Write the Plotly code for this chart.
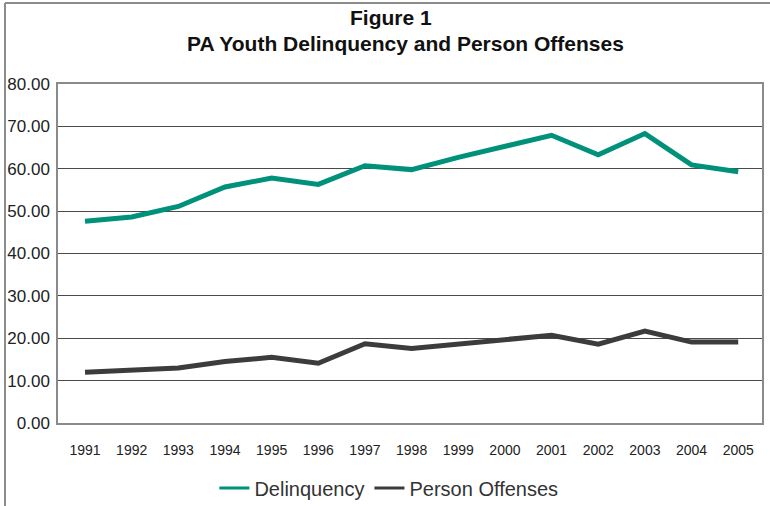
import plotly.graph_objects as go

# Years on the category axis
years = ["1991", "1992", "1993", "1994", "1995", "1996", "1997", "1998",
         "1999", "2000", "2001", "2002", "2003", "2004", "2005"]

# Rates per year for each series
delinquency = [47.6, 48.6, 51.1, 55.7, 57.8, 56.3, 60.7, 59.8,
               62.7, 65.2, 67.9, 63.3, 68.3, 60.9, 59.3]
person_offenses = [12.0, 12.5, 13.0, 14.5, 15.5, 14.1, 18.7, 17.6,
                   18.7, 19.7, 20.7, 18.6, 21.7, 19.1, 19.1]

y_ticks = [0, 10, 20, 30, 40, 50, 60, 70, 80]

title_line1 = "Figure 1"
title_line2 = "PA Youth Delinquency and Person Offenses"

GREEN = "#00917a"
DARK = "#3c3c3c"
SANS = "Liberation Sans, Arial, sans-serif"

fig = go.Figure()
series = [("Delinquency", delinquency, GREEN),
          ("Person Offenses", person_offenses, DARK)]
for name, values, color in series:
    # thick data line
    fig.add_trace(go.Scatter(x=years, y=values, mode="lines", name=name,
                             legendgroup=name, showlegend=False,
                             line=dict(color=color, width=5)))
    # legend key with a thinner stroke
    fig.add_trace(go.Scatter(x=[None], y=[None], mode="lines", name=name,
                             legendgroup=name, showlegend=True,
                             line=dict(color=color, width=3)))

fig.update_layout(
    width=770, height=506,
    margin=dict(l=58, r=8, t=84, b=83, autoexpand=False),
    paper_bgcolor="white", plot_bgcolor="white",
    showlegend=True,
    legend=dict(orientation="h", x=0.47, xanchor="center",
                yref="container", y=(506 - 488) / 506, yanchor="middle",
                font=dict(family=SANS, size=20, color="#333333"),
                itemwidth=30, tracegroupgap=0, bgcolor="rgba(0,0,0,0)"),
    xaxis=dict(type="category", range=[-0.579, 14.51], showgrid=False,
               showline=True, linecolor="#8a8a8a", linewidth=1.5, mirror=True,
               ticks="outside", ticklen=13, tickcolor="rgba(0,0,0,0)",
               tickfont=dict(family=SANS, size=14, color="#222222"),
               automargin=False, fixedrange=True),
    yaxis=dict(range=[0, 80], tickvals=y_ticks, tickformat=".2f",
               showgrid=True, gridcolor="#4a4a4a", gridwidth=1,
               zeroline=False,
               showline=True, linecolor="#8a8a8a", linewidth=1.5, mirror=True,
               ticks="outside", ticklen=3, tickcolor="rgba(0,0,0,0)",
               tickfont=dict(family=SANS, size=17, color="#222222"),
               automargin=False, fixedrange=True),
    annotations=[
        dict(text="<b>%s</b>" % title_line1, xref="paper", yref="paper",
             x=(391 - 58) / 704, y=(423 - 18) / 339, xanchor="center", yanchor="middle",
             showarrow=False, font=dict(family=SANS, size=21, color="#111111")),
        dict(text="<b>%s</b>" % title_line2, xref="paper", yref="paper",
             x=(405 - 58) / 704, y=(423 - 44) / 339, xanchor="center", yanchor="middle",
             showarrow=False, font=dict(family=SANS, size=21, color="#111111")),
    ],
    shapes=[
        # outer frame (top and left edges)
        dict(type="line", xref="paper", yref="paper",
             x0=(5 - 58) / 704, x1=(772 - 58) / 704,
             y0=(423 - 3) / 339, y1=(423 - 3) / 339,
             line=dict(color="#8c8c8c", width=2)),
        dict(type="line", xref="paper", yref="paper",
             x0=(5 - 58) / 704, x1=(5 - 58) / 704,
             y0=(423 - 3) / 339, y1=(423 - 510) / 339,
             line=dict(color="#8c8c8c", width=2)),
    ],
)

fig.write_html("out.html")
